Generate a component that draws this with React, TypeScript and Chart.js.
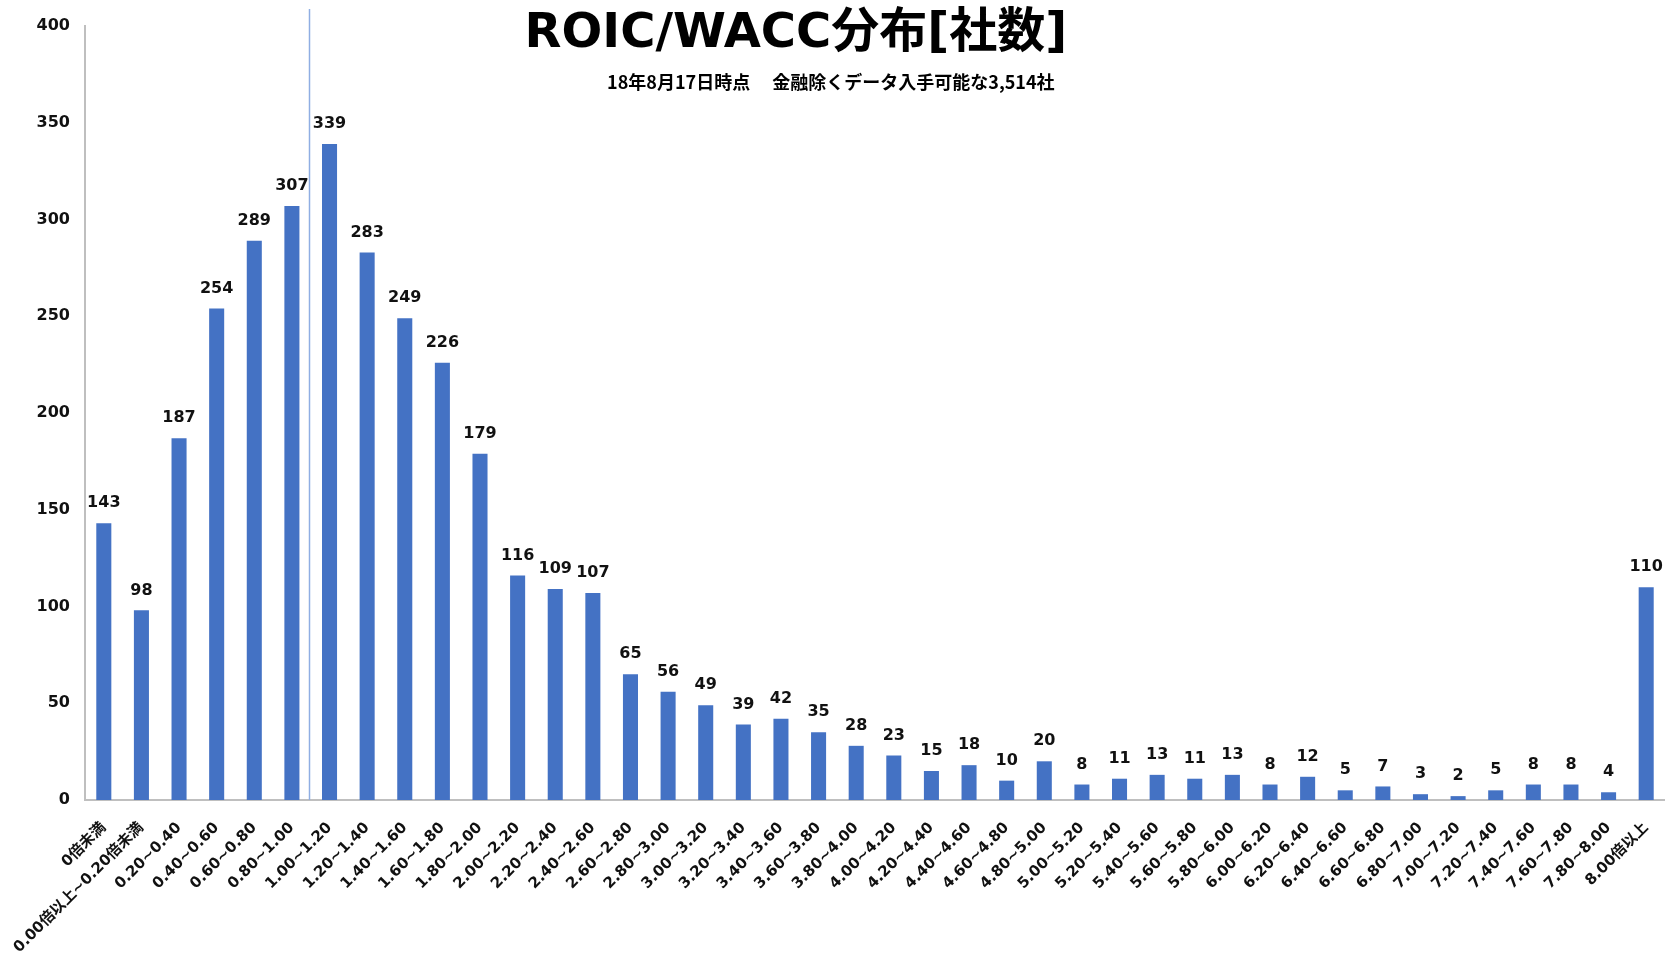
import React, { useEffect, useRef } from "react";
import { Chart, registerables } from "chart.js";

Chart.register(...registerables);

const categories: string[] = [
  "0倍未満",
  "0.00倍以上~0.20倍未満",
  "0.20~0.40",
  "0.40~0.60",
  "0.60~0.80",
  "0.80~1.00",
  "1.00~1.20",
  "1.20~1.40",
  "1.40~1.60",
  "1.60~1.80",
  "1.80~2.00",
  "2.00~2.20",
  "2.20~2.40",
  "2.40~2.60",
  "2.60~2.80",
  "2.80~3.00",
  "3.00~3.20",
  "3.20~3.40",
  "3.40~3.60",
  "3.60~3.80",
  "3.80~4.00",
  "4.00~4.20",
  "4.20~4.40",
  "4.40~4.60",
  "4.60~4.80",
  "4.80~5.00",
  "5.00~5.20",
  "5.20~5.40",
  "5.40~5.60",
  "5.60~5.80",
  "5.80~6.00",
  "6.00~6.20",
  "6.20~6.40",
  "6.40~6.60",
  "6.60~6.80",
  "6.80~7.00",
  "7.00~7.20",
  "7.20~7.40",
  "7.40~7.60",
  "7.60~7.80",
  "7.80~8.00",
  "8.00倍以上",
];

const companyCounts: number[] = [
  143, 98, 187, 254, 289, 307, 339, 283, 249, 226, 179, 116, 109, 107, 65, 56,
  49, 39, 42, 35, 28, 23, 15, 18, 10, 20, 8, 11, 13, 11, 13, 8, 12, 5, 7, 3, 2,
  5, 8, 8, 4, 110,
];

const yAxisMax = 400;
const yAxisStep = 50;
const dividerAfterCategory = "0.80~1.00";

const titleText = "ROIC/WACC分布[社数]";
const subtitleText = "18年8月17日時点　 金融除くデータ入手可能な3,514社";

const BAR_COLOR = "#4472C4";
const AXIS_COLOR = "#BFBFBF";
const TEXT_COLOR = "#111111";
const LATIN_FONT = '"DejaVu Sans", "Noto Sans CJK JP", sans-serif';
const CJK_FONT = '"Noto Sans CJK JP", "DejaVu Sans", sans-serif';

export default function App() {
  const canvasRef = useRef<HTMLCanvasElement | null>(null);

  useEffect(() => {
    document.body.style.margin = "0";
    const canvas = canvasRef.current;
    if (!canvas) return;

    const valueLabelPlugin = {
      id: "valueLabels",
      afterDatasetsDraw(chart: any) {
        const ctx = chart.ctx;
        const meta = chart.getDatasetMeta(0);
        ctx.save();
        ctx.font = `bold 16px ${LATIN_FONT}`;
        ctx.fillStyle = TEXT_COLOR;
        ctx.textAlign = "center";
        ctx.textBaseline = "middle";
        meta.data.forEach((bar: any, i: number) => {
          const v = chart.data.datasets[0].data[i];
          ctx.fillText(String(v), bar.x, bar.y - 20);
        });
        ctx.restore();
      },
    };

    const dividerPlugin = {
      id: "divider",
      afterDatasetsDraw(chart: any) {
        const xs = chart.scales.x;
        const idx = categories.indexOf(dividerAfterCategory);
        const x = Math.round((xs.getPixelForValue(idx) + xs.getPixelForValue(idx + 1)) / 2) - 1.5;
        const ctx = chart.ctx;
        ctx.save();
        ctx.strokeStyle = "#8FAEE3";
        ctx.lineWidth = 1.5;
        ctx.beginPath();
        ctx.moveTo(x, chart.chartArea.top - 17);
        ctx.lineTo(x, chart.chartArea.bottom);
        ctx.stroke();
        ctx.restore();
      },
    };

    const titlePlugin = {
      id: "customTitle",
      afterDraw(chart: any) {
        const ctx = chart.ctx;
        const w = chart.width;
        ctx.save();
        ctx.fillStyle = "#000000";
        ctx.textAlign = "center";
        ctx.textBaseline = "middle";
        ctx.font = `bold 48px ${LATIN_FONT}`;
        ctx.fillText(titleText, w * 0.478, 35);
        ctx.font = `bold 18px ${CJK_FONT}`;
        ctx.fillText(subtitleText, w * 0.499, 82);
        ctx.restore();
      },
    };

    const chart = new Chart(canvas, {
      type: "bar",
      data: {
        labels: categories,
        datasets: [
          {
            data: companyCounts,
            backgroundColor: BAR_COLOR,
            borderWidth: 0,
            barPercentage: 0.4,
            categoryPercentage: 1,
          },
        ],
      },
      options: {
        responsive: false,
        animation: false,
        layout: { padding: { top: 26, right: 0, left: 0, bottom: 0 } },
        plugins: {
          legend: { display: false },
          title: { display: false },
          tooltip: { enabled: false },
        },
        scales: {
          x: {
            grid: { display: false, drawTicks: false },
            border: { display: true, color: AXIS_COLOR, width: 2 },
            ticks: {
              autoSkip: false,
              maxRotation: 45,
              minRotation: 45,
              padding: 19,
              color: TEXT_COLOR,
              font: { family: LATIN_FONT, size: 15, weight: "bold" },
            },
            afterFit(scale: any) {
              scale.height = 153;
              scale.paddingLeft = 0;
              scale.paddingRight = 0;
            },
          },
          y: {
            min: 0,
            max: yAxisMax,
            grid: { display: false, drawTicks: false },
            border: { display: true, color: AXIS_COLOR, width: 2 },
            ticks: {
              stepSize: yAxisStep,
              padding: 15,
              color: TEXT_COLOR,
              font: { family: LATIN_FONT, size: 16, weight: "bold" },
            },
            afterFit(scale: any) {
              scale.width = 85;
            },
          },
        },
      },
      plugins: [valueLabelPlugin, dividerPlugin, titlePlugin],
    });

    return () => chart.destroy();
  }, []);

  return (
    <div style={{ width: 1665, height: 953, background: "#fff" }}>
      <canvas ref={canvasRef} width={1665} height={953} />
    </div>
  );
}
